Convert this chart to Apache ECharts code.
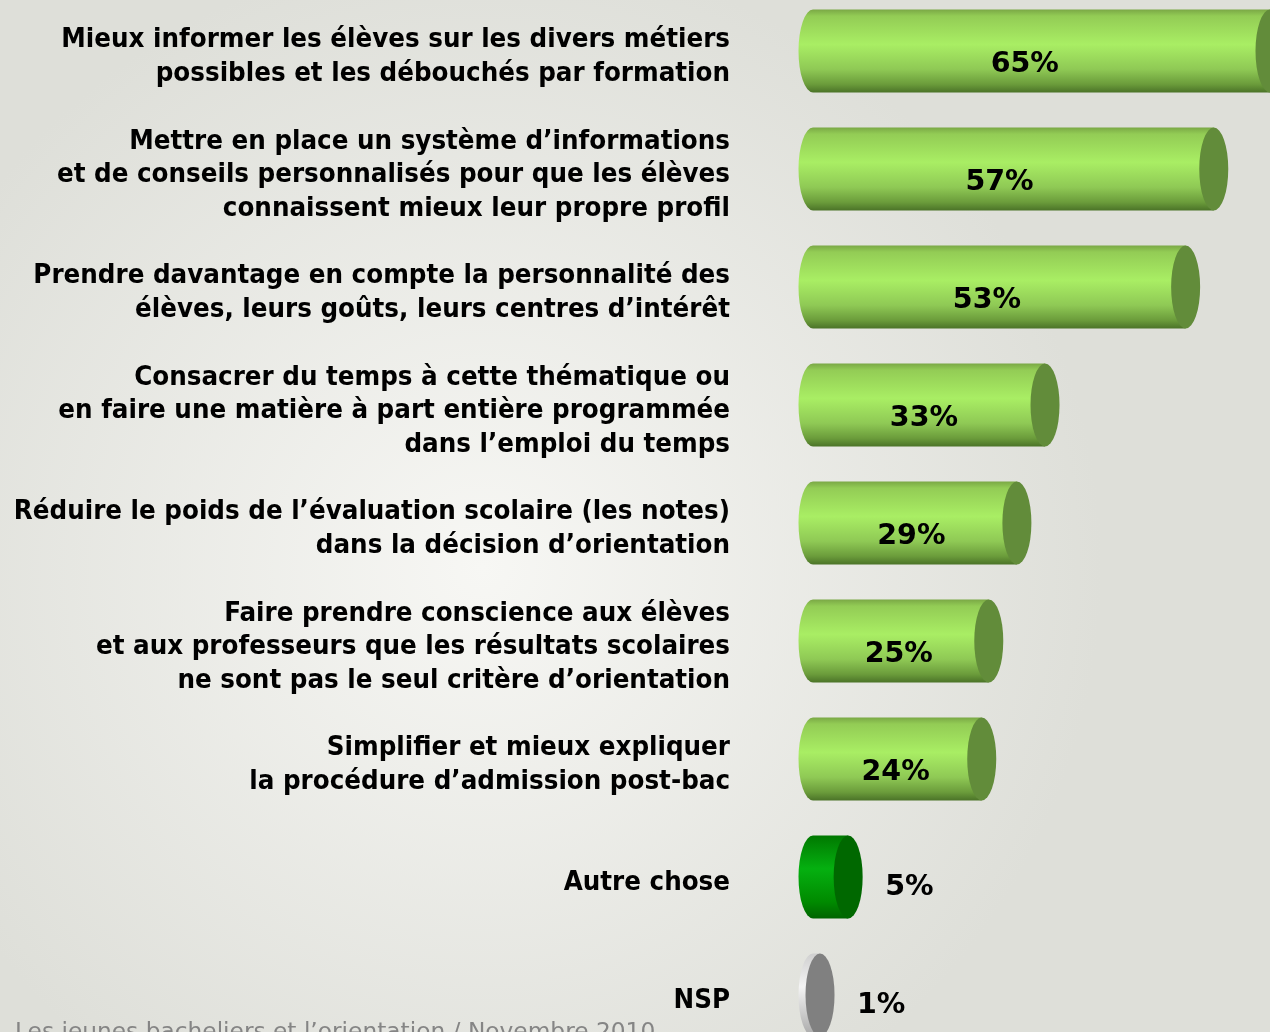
<!DOCTYPE html>
<html>
<head>
<meta charset="utf-8">
<script src="https://cdn.jsdelivr.net/npm/echarts@6/dist/echarts.min.js"></script>
<style>
  html, body { margin: 0; padding: 0; width: 1270px; height: 1032px; overflow: hidden; }
  #chart { width: 1270px; height: 1032px; }
</style>
</head>
<body>
<div id="chart"></div>
<script>
// Survey answers, top to bottom
const categories = [
  'Mieux informer les élèves sur les divers métiers\npossibles et les débouchés par formation',
  'Mettre en place un système d’informations\net de conseils personnalisés pour que les élèves\nconnaissent mieux leur propre profil',
  'Prendre davantage en compte la personnalité des\nélèves, leurs goûts, leurs centres d’intérêt',
  'Consacrer du temps à cette thématique ou\nen faire une matière à part entière programmée\ndans l’emploi du temps',
  'Réduire le poids de l’évaluation scolaire (les notes)\ndans la décision d’orientation',
  'Faire prendre conscience aux élèves\net aux professeurs que les résultats scolaires\nne sont pas le seul critère d’orientation',
  'Simplifier et mieux expliquer\nla procédure d’admission post-bac',
  'Autre chose',
  'NSP'
];
const values = [65, 57, 53, 33, 29, 25, 24, 5, 1];
// which cylinder colouring each row uses
const kinds = ['main', 'main', 'main', 'main', 'main', 'main', 'main', 'other', 'nsp'];
const footerText = 'Les jeunes bacheliers et l’orientation / Novembre 2010';

const palettes = {
  main: {
    body: [
      [0, '#7aa845'], [0.08, '#93cc55'], [0.42, '#a9ee64'],
      [0.72, '#8fc955'], [0.9, '#6b9c3b'], [1, '#4b7328']
    ],
    face: '#628c3a'
  },
  other: {
    body: [
      [0, '#007800'], [0.4, '#05b010'], [0.8, '#008a00'], [1, '#006400']
    ],
    face: '#006800'
  },
  nsp: {
    body: [
      [0, '#cfcfcf'], [0.4, '#f4f4f4'], [1, '#a8a8a8']
    ],
    face: '#808080'
  }
};

function grad(stops) {
  return new echarts.graphic.LinearGradient(0, 0, 0, 1,
    stops.map(s => ({ offset: s[0], color: s[1] })));
}

function renderItem(params, api) {
  const v = api.value(0);
  const c = api.value(1);
  const pal = palettes[kinds[params.dataIndex]];
  const p0 = api.coord([0, c]);
  const p1 = api.coord([v, c]);
  const band = api.size([0, 1])[1];
  const ry = band * 0.352;
  const rx = 14.5;
  const cy = p0[1];
  const top = cy - ry, bot = cy + ry;
  const xl = p0[0], xr = p1[0];

  const bodyPath =
    'M' + xl + ' ' + top + ' L' + xr + ' ' + top + ' L' + xr + ' ' + bot +
    ' L' + xl + ' ' + bot + ' A' + rx + ' ' + ry + ' 0 0 1 ' + xl + ' ' + top + ' Z';
  const facePath =
    'M' + xr + ' ' + top + ' A' + rx + ' ' + ry + ' 0 1 1 ' + xr + ' ' + bot +
    ' A' + rx + ' ' + ry + ' 0 1 1 ' + xr + ' ' + top + ' Z';

  // long cylinders carry their value inside, short ones to the right
  const inside = v >= 10;
  const label = {
    type: 'text',
    style: {
      text: v + '%',
      x: inside ? xl + 0.448 * (xr - xl) + 7 : xr + 37,
      y: inside ? cy + 14 : cy + 11,
      fill: '#000',
      font: 'bold 28.5px "DejaVu Sans"',
      align: inside ? 'center' : 'left',
      verticalAlign: 'middle'
    },
    z2: 10
  };

  return {
    type: 'group',
    children: [
      { type: 'path', shape: { pathData: bodyPath }, style: { fill: grad(pal.body) } },
      { type: 'path', shape: { pathData: facePath }, style: { fill: pal.face } },
      label
    ]
  };
}

const chart = echarts.init(document.getElementById('chart'), null, { renderer: 'canvas' });
chart.setOption({
  animation: false,
  graphic: [
    {
      type: 'rect', z: -10, silent: true,
      shape: { x: 0, y: 0, width: 1270, height: 1032 },
      style: {
        fill: {
          type: 'radial', x: 0.38, y: 0.55, r: 0.6,
          colorStops: [
            { offset: 0, color: '#f7f7f4' },
            { offset: 1, color: '#dedfd9' }
          ]
        }
      }
    },
    {
      type: 'text', left: 15, top: 1021, z: 5,
      style: {
        text: footerText,
        font: '23.3px "DejaVu Sans"',
        fill: '#858585'
      }
    }
  ],
  // grid 0 holds the cylinders; grid 1 carries the question texts, set a little lower
  grid: [
    { left: 813, right: 0, top: -8, height: 1062, containLabel: false, outerBoundsMode: 'none' },
    { left: 813, right: 0, top: -2, height: 1062, containLabel: false, outerBoundsMode: 'none' }
  ],
  xAxis: [
    { type: 'value', gridIndex: 0, min: 0, max: 65, show: false },
    { type: 'value', gridIndex: 1, min: 0, max: 65, show: false }
  ],
  yAxis: [
    {
      type: 'category', gridIndex: 0, inverse: true, data: categories,
      show: false
    },
    {
      type: 'category', gridIndex: 1, inverse: true, data: categories,
      axisLine: { show: false },
      axisTick: { show: false },
      splitLine: { show: false },
      axisLabel: {
        margin: 83,
        align: 'right',
        color: '#000',
        fontFamily: '"DejaVu Sans Condensed"',
        fontWeight: 'bold',
        fontSize: 27.4,
        lineHeight: 33.5
      }
    }
  ],
  series: [{
    type: 'custom',
    xAxisIndex: 0,
    yAxisIndex: 0,
    renderItem: renderItem,
    encode: { x: 0, y: 1 },
    clip: false,
    data: values.map((v, i) => [v, i])
  }]
});
</script>
</body>
</html>
